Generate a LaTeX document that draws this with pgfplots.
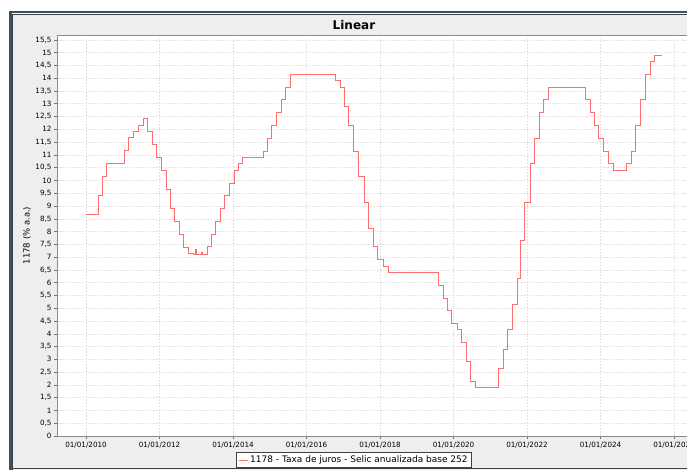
\documentclass[border=0pt]{standalone}
\usepackage{pgfplots}
\pgfplotsset{compat=1.18}
\usepackage{fontspec}
\setmainfont{DejaVu Sans}
\definecolor{serie}{RGB}{255,110,110}
\definecolor{panel}{RGB}{238,238,238}
\definecolor{frameteal}{RGB}{52,84,100}
\definecolor{gridc}{RGB}{222,222,222}
\pgfplotstableread{
x y
2010.000 8.65
2010.325 9.40
2010.440 10.16
2010.555 10.66
2011.053 11.17
2011.167 11.67
2011.300 11.92
2011.437 12.17
2011.553 12.42
2011.666 11.90
2011.800 11.40
2011.915 10.90
2012.050 10.40
2012.183 9.65
2012.300 8.90
2012.413 8.39
2012.530 7.89
2012.663 7.39
2012.775 7.14
2012.925 7.11
2012.990 7.28
2013.005 7.11
2013.150 7.20
2013.160 7.11
2013.295 7.40
2013.410 7.90
2013.525 8.40
2013.660 8.90
2013.775 9.40
2013.910 9.90
2014.040 10.40
2014.156 10.65
2014.250 10.90
2014.830 11.15
2014.925 11.65
2015.057 12.15
2015.172 12.65
2015.330 13.15
2015.420 13.64
2015.575 14.15
2016.800 13.90
2016.915 13.65
2017.030 12.90
2017.145 12.15
2017.280 11.15
2017.415 10.14
2017.570 9.14
2017.685 8.14
2017.820 7.40
2017.935 6.90
2018.105 6.64
2018.220 6.40
2019.580 5.90
2019.715 5.40
2019.830 4.90
2019.945 4.40
2020.100 4.15
2020.213 3.65
2020.347 2.90
2020.460 2.15
2020.596 1.90
2021.210 2.65
2021.345 3.40
2021.460 4.15
2021.593 5.15
2021.727 6.15
2021.820 7.65
2021.937 9.15
2022.090 10.65
2022.205 11.65
2022.340 12.65
2022.455 13.15
2022.590 13.65
2023.587 13.15
2023.720 12.65
2023.837 12.15
2023.950 11.65
2024.085 11.15
2024.217 10.65
2024.352 10.40
2024.715 10.65
2024.850 11.15
2024.947 12.15
2025.080 13.15
2025.213 14.15
2025.350 14.65
2025.463 14.90
2025.670 14.90
}\selic
\begin{document}
\begin{tikzpicture}
\useasboundingbox (0pt,0pt) rectangle (687pt,470pt);
\clip (0pt,0pt) rectangle (687pt,470pt);
\fill[white] (0pt,0pt) rectangle (687pt,470pt);
\fill[panel] (12pt,0pt) rectangle (700pt,456pt);
\draw[frameteal, line width=2.5pt] (10.25pt,-5pt) -- (10.25pt,457.75pt) -- (700pt,457.75pt);
\draw[black!75, line width=1pt] (12.5pt,-5pt) -- (12.5pt,455.5pt) -- (700pt,455.5pt);
\draw[black!75, line width=1pt] (12pt,1pt) -- (700pt,1pt);
\begin{axis}[
  at={(57pt,34pt)}, anchor=south west,
  scale only axis, width=640pt, height=401pt,
  xmin=2009.21, xmax=2026.625, ymin=0, ymax=15.69,
  axis background/.style={fill=white},
  axis line style={draw=black!45, line width=0.6pt},
  tick pos=left, tick align=outside, major tick length=3pt,
  tick style={black!55, line width=0.5pt},
  xtick={2010,2012,2014,2016,2018,2020,2022,2024,2026},
  xticklabels={01/01/2010,01/01/2012,01/01/2014,01/01/2016,01/01/2018,01/01/2020,01/01/2022,01/01/2024,01/01/2026},
  ytick distance=0.5,
  yticklabel style={/pgf/number format/use comma, /pgf/number format/assume math mode=true, font=\fontsize{7.2}{8}\selectfont, xshift=1pt},
  xticklabel style={font=\fontsize{7.2}{8}\selectfont},
  grid=major,
  major grid style={gridc, dash pattern=on 1.6pt off 1.6pt, line width=0.5pt},
  ylabel={1178 (\% a.a.)},
  ylabel style={at={(axis description cs:-0.047,0.5)}, anchor=center, font=\fontsize{8.5}{10}\selectfont},
  every axis title shift=0pt,
  title={Linear},
  title style={at={(axis description cs:0.464,1.025)}, anchor=center, font=\fontsize{12}{14}\selectfont\bfseries},
  legend style={at={(axis description cs:0.464,-0.0599)}, anchor=center, draw=black!75, fill=white, font=\fontsize{9}{11}\selectfont, inner sep=1.5pt, line width=0.7pt, legend cell align=left},
  legend image code/.code={\draw[serie, line width=0.9pt] (0pt,0pt) -- (9pt,0pt);},
]
\addplot[const plot, serie, line width=0.9pt] table[x=x, y=y] {\selic};
\addlegendentry{1178 - Taxa de juros - Selic anualizada base 252}
\end{axis}
\end{tikzpicture}
\end{document}
